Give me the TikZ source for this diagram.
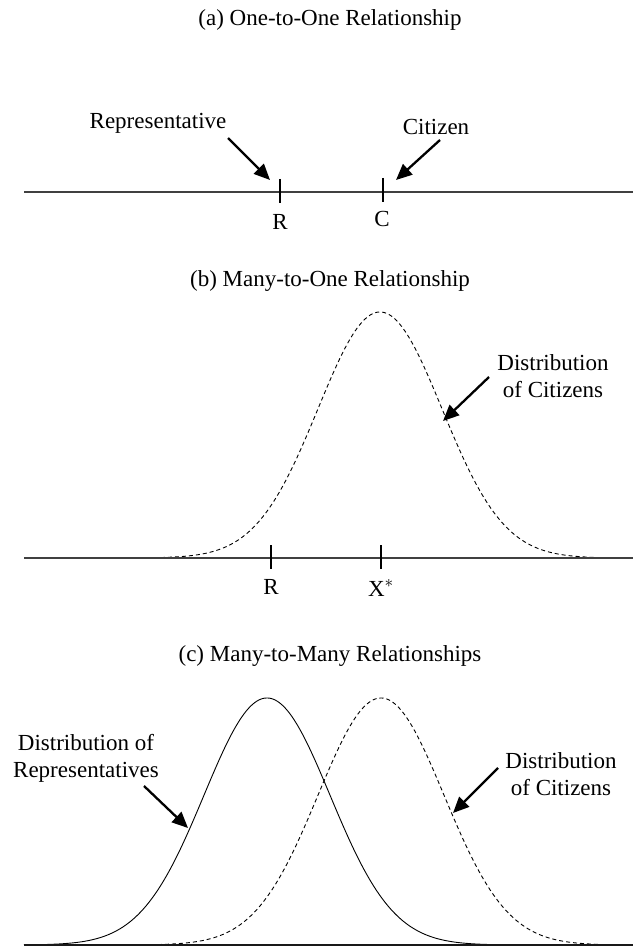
\documentclass[tikz,border=0pt]{standalone}
\usepackage{fontspec}
\setmainfont{Liberation Serif}
\usetikzlibrary{arrows.meta}
\begin{document}
\begin{tikzpicture}[x=1pt,y=-1pt,
  lbl/.style={inner sep=0pt,font=\fontsize{23}{27}\selectfont,align=center},
  axis/.style={line width=1.3pt,black!75},
  tick/.style={line width=1.8pt},
  pointer/.style={line width=2.3pt,-{Triangle[length=16pt,width=14pt]}},
  curve/.style={line width=0.9pt},
  dcurve/.style={line width=0.9pt,dash pattern=on 4pt off 3pt}]
\useasboundingbox (0,0) rectangle (633,949);
% (a)
\node[lbl] (ta) at (330,20) {(a) One-to-One Relationship};
\coordinate (a0) at (24,192); \coordinate (a1) at (633,192);
\draw[axis] (a0) -- (a1);
\coordinate (rt) at (280,179); \coordinate (rb) at (280,203);
\coordinate (ct) at (383,178); \coordinate (cb) at (383,202);
\draw[tick] (rt) -- (rb);
\draw[tick] (ct) -- (cb);
\node[lbl] (rlab) at (280,222) {R};
\node[lbl] (clab) at (382,219) {C};
\node[lbl] (rep) at (158,123) {Representative};
\node[lbl] (cit) at (436,127) {Citizen};
\coordinate (ra0) at (228,138); \coordinate (ra1) at (270,180);
\coordinate (ca0) at (440,140); \coordinate (ca1) at (396,180);
\draw[pointer] (ra0) -- (ra1);
\draw[pointer] (ca0) -- (ca1);
% (b)
\node[lbl] (tb) at (330,281) {(b) Many-to-One Relationship};
\draw[dcurve] plot[domain=140:630,samples=220] (\x,{558-246*exp(-0.5*((\x-380)/62)^2)});
\coordinate (b0) at (24,558); \coordinate (b1) at (633,558);
\draw[axis] (b0) -- (b1);
\coordinate (brt) at (271,545); \coordinate (brb) at (271,569);
\coordinate (bxt) at (381,545); \coordinate (bxb) at (381,569);
\draw[tick] (brt) -- (brb);
\draw[tick] (bxt) -- (bxb);
\node[lbl] (brlab) at (271,587) {R};
\node[lbl] (bxlab) at (381,588) {X$^{*}$};
\node[lbl] (bdist) at (553,376) {Distribution\\of Citizens};
\coordinate (ba0) at (489,377); \coordinate (ba1) at (443,421);
\draw[pointer] (ba0) -- (ba1);
% (c)
\node[lbl] (tc) at (330,656) {(c) Many-to-Many Relationships};
\draw[curve] plot[domain=24:520,samples=240] (\x,{945-247*exp(-0.5*((\x-267)/63)^2)});
\draw[dcurve] plot[domain=130:630,samples=240] (\x,{945-247*exp(-0.5*((\x-381)/63)^2)});
\coordinate (c0) at (24,945); \coordinate (c1) at (633,945);
\draw[axis,black!90] (c0) -- (c1);
\node[lbl] (cdr) at (86,758) {Distribution of\\Representatives};
\node[lbl] (cdc) at (561,774) {Distribution\\of Citizens};
\coordinate (cra0) at (144,786); \coordinate (cra1) at (188,828);
\coordinate (cca0) at (498,768); \coordinate (cca1) at (453,813);
\draw[pointer] (cra0) -- (cra1);
\draw[pointer] (cca0) -- (cca1);
\end{tikzpicture}
\end{document}
